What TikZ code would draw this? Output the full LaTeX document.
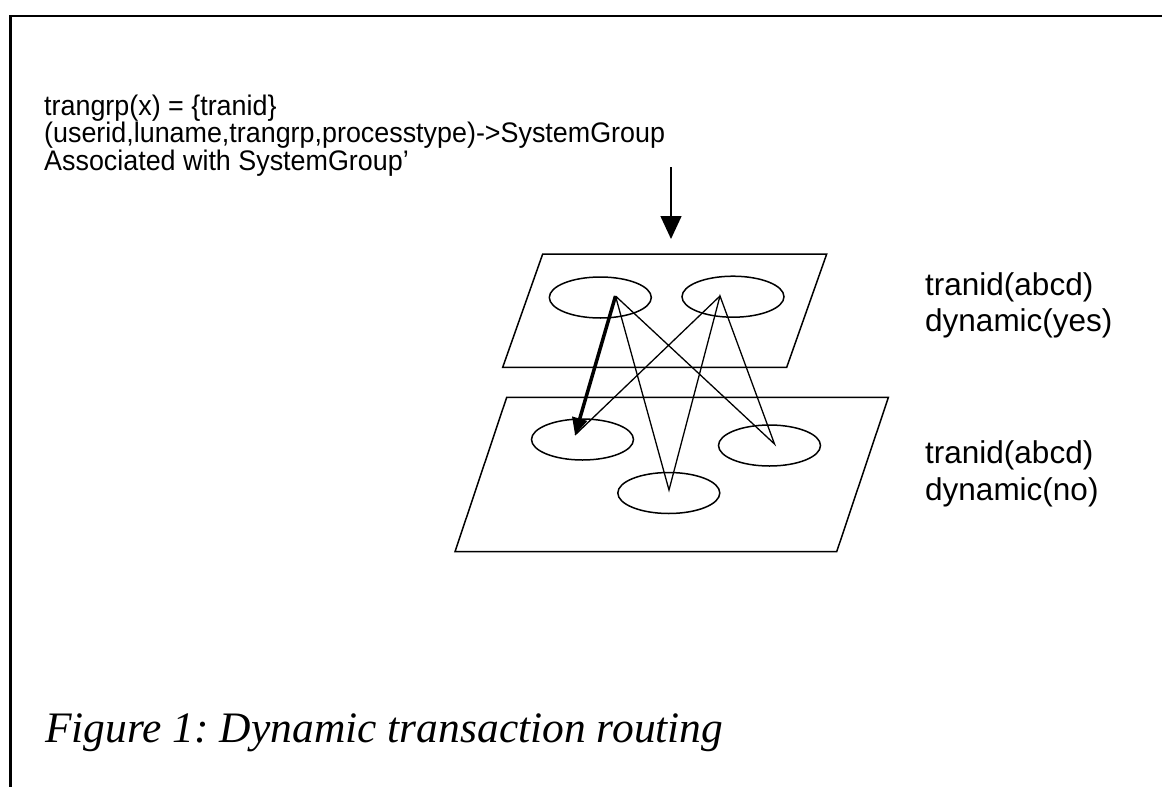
\documentclass[tikz,border=0pt]{standalone}
\usepackage{fontspec}
\setmainfont{Liberation Sans}
\newfontfamily\narrowsans[FakeStretch=0.95]{Liberation Sans}
\newfontfamily\capfont{Liberation Serif}
\usetikzlibrary{shapes.geometric,arrows.meta}
\frenchspacing
\begin{document}
\begin{tikzpicture}[x=1pt,y=-1pt,
  plane/.style={line width=1.5pt,line join=miter},
  site/.style={ellipse,draw,line width=1.5pt,inner sep=0pt,minimum width=102pt,minimum height=41pt},
  link/.style={line width=1.3pt},
  lbl/.style={anchor=base west,inner sep=0pt,font=\narrowsans\fontsize{28.3}{28.3}\selectfont},
  rlbl/.style={anchor=base west,inner sep=0pt,font=\fontsize{31.5}{31.5}\selectfont}]
\useasboundingbox (0,0) rectangle (1162,787);
% open frame
\draw[line width=2.3pt] (1162,15.8) -- (10.5,15.8) -- (10.5,787);

% header text
\node[lbl] (h1) at (44,115) {trangrp(x) = \{tranid\}};
\node[lbl] (h2) at (44,142.5) {(userid,luname,trangrp,processtype)->SystemGroup};
\node[lbl] (h3) at (44,170) {Associated with SystemGroup’};

% arrow into the upper plane
\coordinate (in0) at (671,167);
\coordinate (in1) at (671,239);
\draw[line width=1.5pt,-{Triangle[length=23pt,width=21pt]}] (in0) -- (in1);

% upper plane
\draw[plane] (542.7,254) -- (826.7,254) -- (786.7,367.3) -- (502.7,367.3) -- cycle;
\node[site] (t1) at (600.3,297.5) {};
\node[site] (t2) at (733,296.7) {};

% lower plane
\draw[plane] (506.7,397.3) -- (888.4,397.3) -- (836.7,551.7) -- (455,551.7) -- cycle;
\node[site] (b1) at (582.5,439.5) {};
\node[site] (b2) at (668.8,493) {};
\node[site] (b3) at (769.5,445.5) {};

% route end points
\coordinate (pt1) at (615.5,296);
\coordinate (pt2) at (720,296);
\coordinate (pb1) at (575,435);
\coordinate (pb2) at (669,490);
\coordinate (pb3) at (774.5,444);

\draw[link] (pt1) -- (pb2) -- (pt2) -- (pb3) -- (pt1);
\draw[link] (pt2) -- (pb1);
\draw[line width=3.5pt,-{Triangle[length=17pt,width=15pt]}] (pt1) -- (pb1);

% plane labels
\node[rlbl] (u1) at (925,295) {tranid(abcd)};
\node[rlbl] (u2) at (925,331.5) {dynamic(yes)};
\node[rlbl] (l1) at (925,463) {tranid(abcd)};
\node[rlbl] (l2) at (925,500) {dynamic(no)};

% caption
\node[anchor=base west,inner sep=0pt,font=\capfont\itshape\fontsize{43.5}{43.5}\selectfont] (cap) at (45,742) {Figure 1: Dynamic transaction routing};
\end{tikzpicture}
\end{document}
